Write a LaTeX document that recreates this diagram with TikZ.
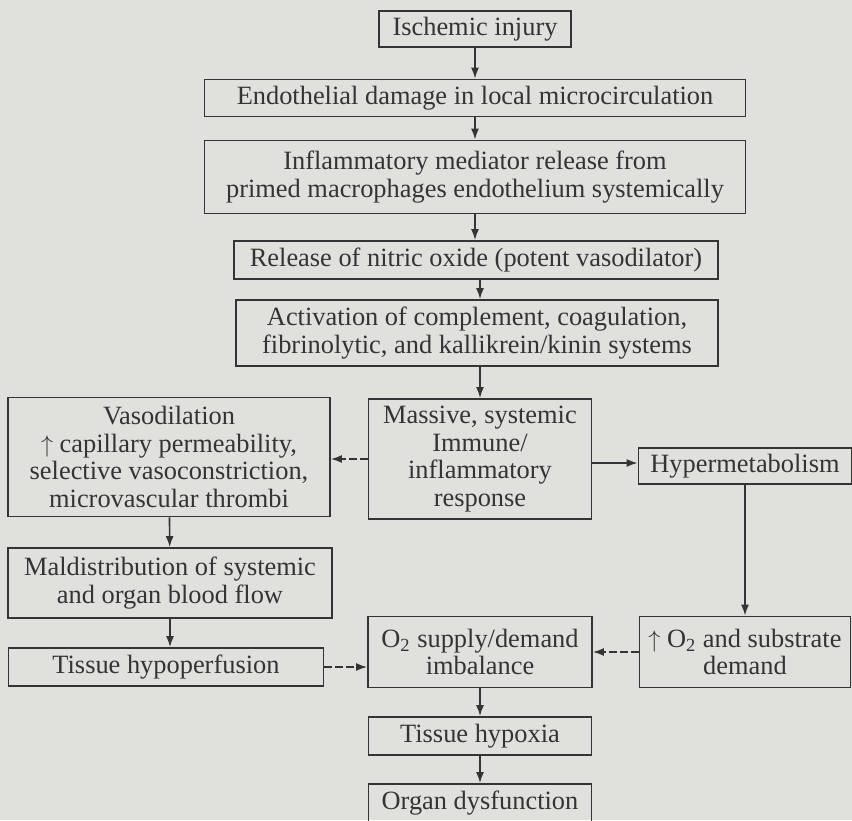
\documentclass[tikz,border=0pt]{standalone}
\usepackage{amsmath}
\usepackage{fontspec}
\setmainfont{Liberation Serif}
\usepackage{tikz}
\usetikzlibrary{positioning,arrows.meta}
\definecolor{paper}{RGB}{224,224,220}
\definecolor{ink}{RGB}{52,52,52}

\begin{document}
\begin{tikzpicture}[x=0.5pt,y=-0.5pt,
    blk/.style={draw=ink,line width=0.9pt,inner sep=0pt,align=center,text=ink,
      font=\fontsize{13.2}{13.9}\selectfont},
    link/.style={draw=ink,line width=0.8pt,-{Latex[length=5.5pt,width=4pt]}},
    dlink/.style={link,dash pattern=on 4pt off 1.5pt}]
  \fill[paper] (0,0) rectangle (852,820);
  \useasboundingbox (0,0) rectangle (852,820);

  \node[blk,minimum width=96pt,minimum height=18pt](isch) at (475,29){Ischemic injury};
  \node[blk,minimum width=270.5pt,minimum height=18.5pt](endo) at (475,98){Endothelial damage in local microcirculation};
  \node[blk,minimum width=270.5pt,minimum height=36.5pt](infl) at (475,177){Inflammatory mediator release from\\primed macrophages endothelium systemically};
  \node[blk,minimum width=242pt,minimum height=19pt](nitr) at (476,260){Release of nitric oxide (potent vasodilator)};
  \node[blk,minimum width=241pt,minimum height=33pt](actv) at (477,333){Activation of complement, coagulation,\\fibrinolytic, and kallikrein/kinin systems};
  \node[blk,minimum width=161pt,minimum height=59.5pt](vaso) at (169,457){Vasodilation\\$\uparrow$ capillary permeability,\\selective vasoconstriction,\\microvascular thrombi};
  \node[blk,minimum width=111.5pt,minimum height=60pt](mass) at (480,459){Massive, systemic\\Immune/\\inflammatory\\response};
  \node[blk,minimum width=106.5pt,minimum height=18pt](hypm) at (745,466){Hypermetabolism};
  \node[blk,minimum width=162pt,minimum height=35pt](mald) at (170,583){Maldistribution of systemic\\and organ blood flow};
  \node[blk,minimum width=157.5pt,minimum height=19pt](hypo) at (166,667){Tissue hypoperfusion};
  \node[blk,minimum width=112pt,minimum height=35.5pt](imbl) at (480,652){O\textsubscript{2} supply/demand\\imbalance};
  \node[blk,minimum width=105.5pt,minimum height=35.5pt](dmnd) at (745,652){$\uparrow$ O\textsubscript{2} and substrate\\demand};
  \node[blk,minimum width=111.5pt,minimum height=19pt](hypx) at (480,736){Tissue hypoxia};
  \node[blk,minimum width=111.5pt,minimum height=19pt](orgn) at (480,803){Organ dysfunction};

  \draw[link] (isch) -- (endo);
  \draw[link] (endo) -- (infl);
  \draw[link] (infl) -- (nitr.north -| infl);
  \draw[link] (nitr.south -| mass) -- (actv.north -| mass);
  \draw[link] (actv.south -| mass) -- (mass);
  \draw[dlink] (mass.west) -- (mass.west -| vaso.east);
  \draw[link] (mass.east |- 0,463) -- (hypm.west |- 0,463);
  \draw[link] (hypm) -- (dmnd);
  \draw[link] (vaso) -- (mald);
  \draw[link] (mald.south) -- (mald.south |- hypo.north);
  \draw[dlink] (hypo.east) -- (hypo.east -| imbl.west);
  \draw[dlink] (dmnd) -- (imbl);
  \draw[link] (imbl) -- (hypx);
  \draw[link] (hypx) -- (orgn);
\end{tikzpicture}
\end{document}
